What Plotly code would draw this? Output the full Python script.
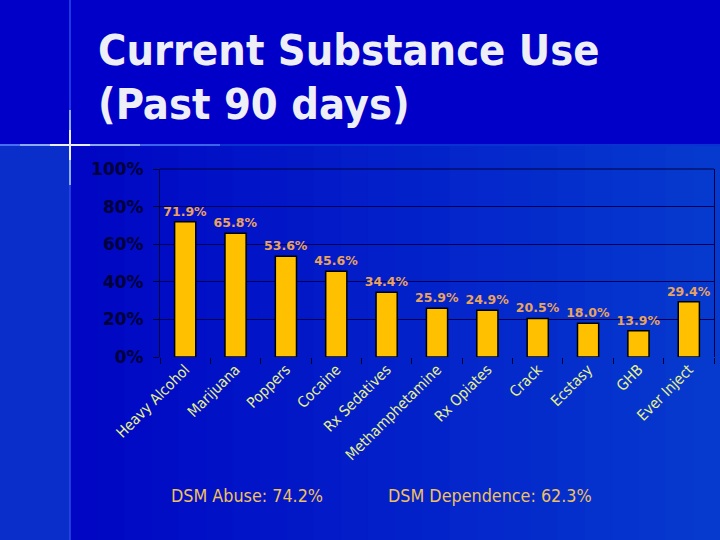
import plotly.graph_objects as go

categories = ["Heavy Alcohol", "Marijuana", "Poppers", "Cocaine", "Rx Sedatives",
              "Methamphetamine", "Rx Opiates", "Crack", "Ecstasy", "GHB", "Ever Inject"]
values = [71.9, 65.8, 53.6, 45.6, 34.4, 25.9, 24.9, 20.5, 18.0, 13.9, 29.4]
y_ticks = [0, 20, 40, 60, 80, 100]
y_tick_text = [f"{v}%" for v in y_ticks]
title_lines = ["Current Substance Use", "(Past 90 days)"]
footnotes = ["DSM Abuse: 74.2%", "DSM Dependence: 62.3%"]

W, H = 720, 540
L, R, T, B = 160, 6, 169, 183
PW, PH = W - L - R, H - T - B


def px(x):
    return (x - L) / PW


def py(y):
    return (H - B - y) / PH


def lerp_color(c1, c2, t):
    return "rgb(%d,%d,%d)" % tuple(round(a + (b - a) * t) for a, b in zip(c1, c2))


shapes = []
# lower background gradient (right of the vertical rule)
n = 24
c_left, c_right = (0, 6, 196), (6, 58, 206)
for i in range(n):
    x0 = 70 + (W - 70) * i / n
    x1 = 70 + (W - 70) * (i + 1) / n + 1
    shapes.append(dict(type="rect", xref="paper", yref="paper", layer="below",
                       x0=px(x0), x1=px(x1), y0=py(H), y1=py(145),
                       fillcolor=lerp_color(c_left, c_right, i / (n - 1)), line=dict(width=0)))
# left strip below the rule
shapes.append(dict(type="rect", xref="paper", yref="paper", layer="below",
                   x0=px(0), x1=px(70), y0=py(H), y1=py(145),
                   fillcolor="rgb(10,46,202)", line=dict(width=0)))
# vertical rule
shapes.append(dict(type="line", xref="paper", yref="paper", layer="below",
                   x0=px(70), x1=px(70), y0=py(0), y1=py(H),
                   line=dict(color="rgb(45,75,230)", width=1.5)))
# horizontal rule fading from the cross
segs = [(0, 20, "rgb(70,110,240)"), (20, 50, "rgb(140,170,250)"), (50, 90, "rgb(235,240,255)"),
        (90, 140, "rgb(140,170,250)"), (140, 220, "rgb(60,100,235)"), (220, 720, "rgb(10,50,210)")]
for a, b, c in segs:
    shapes.append(dict(type="line", xref="paper", yref="paper", layer="below",
                       x0=px(a), x1=px(b), y0=py(145), y1=py(145),
                       line=dict(color=c, width=2)))
# vertical sparkle
for a, b, c in [(110, 130, "rgb(140,170,250)"), (130, 160, "rgb(235,240,255)"), (160, 185, "rgb(140,170,250)")]:
    shapes.append(dict(type="line", xref="paper", yref="paper", layer="below",
                       x0=px(70), x1=px(70), y0=py(a), y1=py(b),
                       line=dict(color=c, width=2)))
# top border of the plot area
shapes.append(dict(type="line", xref="paper", yref="paper", layer="above",
                   x0=0, x1=1, y0=1, y1=1, line=dict(color="#000040", width=1)))

fig = go.Figure()
fig.add_trace(go.Bar(
    x=categories, y=values,
    marker=dict(color="#FFC000", line=dict(color="#000000", width=1.5)),
    texttemplate="%{y:.1f}%", textposition="outside", constraintext="none",
    textfont=dict(family="DejaVu Sans", size=12.5, color="#E9A35E", weight="bold"),
    cliponaxis=False,
))

annotations = []
title_y = [50, 104]
for line, yy in zip(title_lines, title_y):
    annotations.append(dict(text=line, xref="paper", yref="paper", x=px(96), y=py(yy),
                            xanchor="left", yanchor="middle", showarrow=False,
                            font=dict(family="DejaVu Sans Condensed, DejaVu Sans", size=43,
                                      color="#EEEEF6", weight="bold")))
for line, xx in zip(footnotes, [169, 386]):
    annotations.append(dict(text=line, xref="paper", yref="paper", x=px(xx), y=py(495),
                            xanchor="left", yanchor="middle", showarrow=False,
                            font=dict(family="DejaVu Sans Condensed, DejaVu Sans", size=17.8,
                                      color="#F0C060")))

fig.update_layout(
    width=W, height=H,
    margin=dict(l=L, r=R, t=T, b=B, pad=0),
    paper_bgcolor="rgb(0,0,200)",
    plot_bgcolor="rgba(0,0,0,0)",
    bargap=0.58,
    showlegend=False,
    shapes=shapes,
    annotations=annotations,
    xaxis=dict(
        tickangle=-45, ticks="outside", tickson="boundaries", ticklen=6,
        tickcolor="#00002A", showline=False, showgrid=False,
        tickfont=dict(family="DejaVu Sans Condensed, DejaVu Sans", size=15, color="#E8F28A"),
    ),
    yaxis=dict(
        range=[0, 100], tickmode="array", tickvals=y_ticks, ticktext=y_tick_text,
        ticks="outside", ticklen=6, tickcolor="#00002A",
        showgrid=True, gridcolor="#000050", gridwidth=1, zeroline=False,
        showline=True, linecolor="#000040", linewidth=1, mirror=True,
        ticklabelstandoff=6,
        tickfont=dict(family="DejaVu Sans", size=17, color="#00003A", weight="bold"),
    ),
)

fig.write_html("out.html", config={"displayModeBar": False},
               post_script="document.body.style.margin='0';document.body.style.padding='0';")
